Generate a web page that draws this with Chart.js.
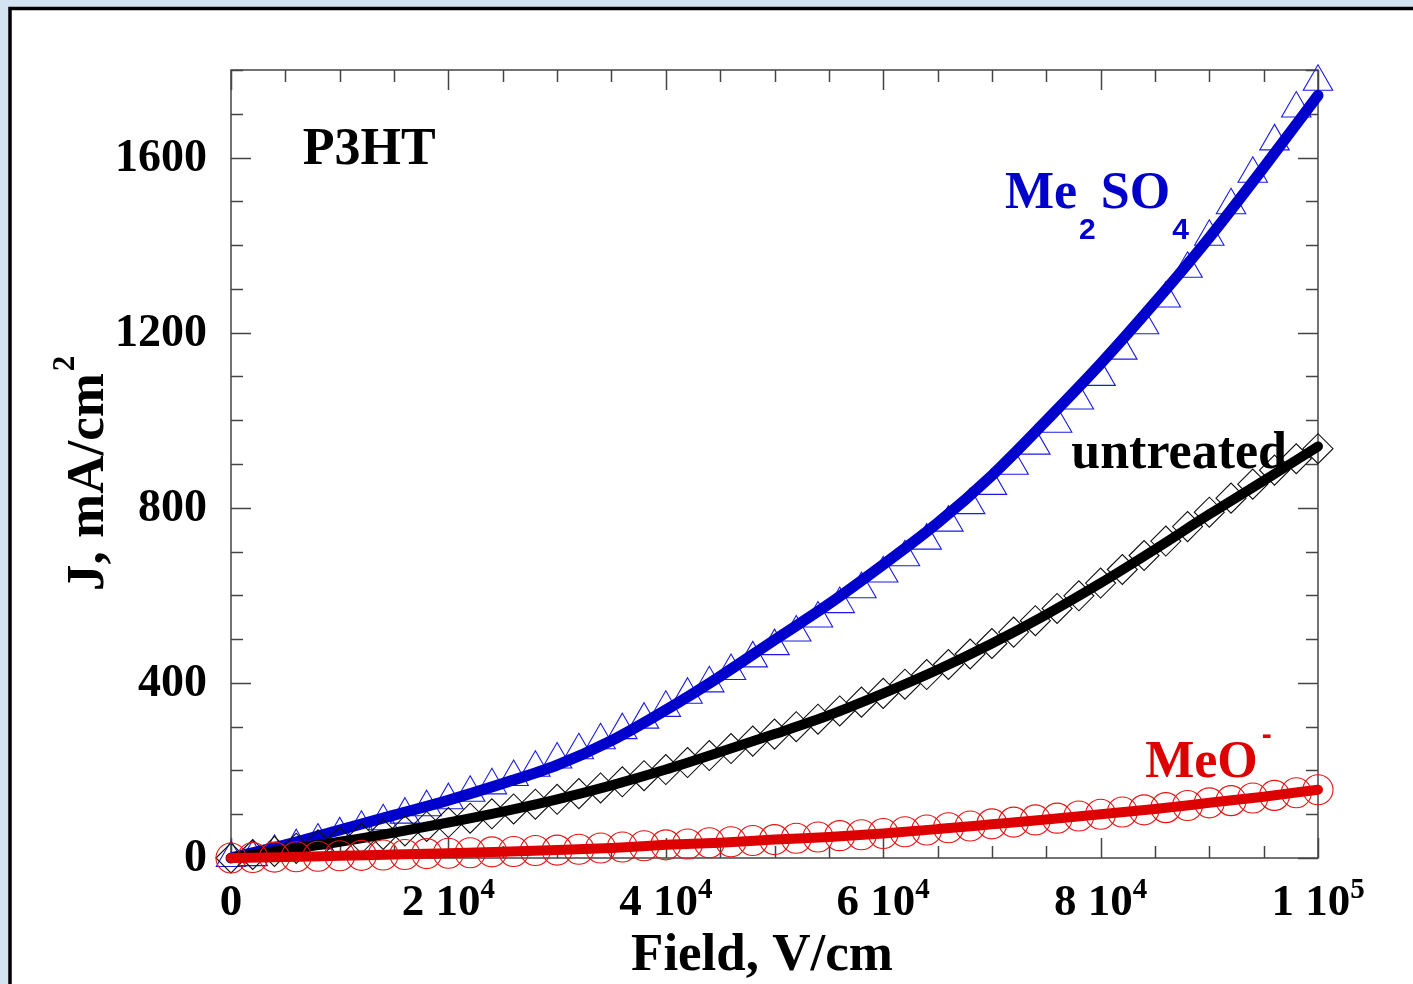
<!DOCTYPE html>
<html>
<head>
<meta charset="utf-8">
<script src="https://cdn.jsdelivr.net/npm/chart.js@4.4.0/dist/chart.umd.min.js"></script>
<style>
  html, body { margin: 0; padding: 0; overflow: hidden; background: #d4e3f0; }
  #wrap { position: absolute; left: 0; top: 0; width: 1413px; height: 984px; }
</style>
</head>
<body>
<div id="wrap"><canvas id="myChart" width="1413" height="984"></canvas></div>
<script>
// measured points (every 2000 V/cm)
const fieldPts = [0, 2000, 4000, 6000, 8000, 10000, 12000, 14000, 16000, 18000,
  20000, 22000, 24000, 26000, 28000, 30000, 32000, 34000, 36000, 38000,
  40000, 42000, 44000, 46000, 48000, 50000, 52000, 54000, 56000, 58000,
  60000, 62000, 64000, 66000, 68000, 70000, 72000, 74000, 76000, 78000,
  80000, 82000, 84000, 86000, 88000, 90000, 92000, 94000, 96000, 98000, 100000];
const me2so4Pts = [0, 2, 14, 27, 40, 54, 69, 84, 99, 116, 132, 149, 166, 185, 206, 225,
  246, 269, 292, 316, 343, 373, 399, 427, 456, 484, 515, 547, 580, 614, 650, 687, 725,
  766, 806, 850, 896, 942, 992, 1045, 1099, 1159, 1217, 1278, 1346, 1419, 1491, 1563,
  1637, 1712, 1773];
const untreatedPts = [0, 8, 15, 22, 30, 37, 45, 54, 62, 72, 81, 91, 101, 112, 123, 134,
  147, 160, 174, 188, 202, 218, 234, 250, 267, 283, 300, 317, 336, 356, 376, 397, 419,
  442, 466, 490, 516, 542, 570, 599, 628, 659, 691, 724, 757, 790, 822, 854, 886, 912, 935];
const meoPts = [0, 1, 2, 3, 4, 5, 6, 7, 8, 10, 11, 12, 14, 15, 17, 18, 20, 23, 25, 28,
  30, 32, 35, 37, 40, 42, 45, 48, 51, 53, 56, 60, 64, 69, 73, 78, 82, 87, 91, 96,
  100, 105, 110, 115, 120, 126, 131, 137, 143, 149, 156];

// fitted curves (every 5000 V/cm)
const fieldFit = [0, 5000, 10000, 15000, 20000, 25000, 30000, 35000, 40000, 45000, 50000,
  55000, 60000, 65000, 70000, 75000, 80000, 85000, 90000, 95000, 100000];
const me2so4Fit = [0, 30, 64, 98, 132, 170, 212, 268, 338, 415, 498, 580, 670, 765, 874,
  999, 1129, 1269, 1417, 1577, 1742];
const untreatedFit = [0, 19, 37, 58, 81, 106, 134, 166, 202, 242, 283, 326, 376, 430, 490,
  556, 628, 705, 785, 862, 940];
const meoFit = [0, 2, 5, 8, 11, 14, 18, 23, 30, 35, 42, 48, 56, 66, 77, 88, 100, 112, 126,
  140, 156];

// axis labels
const xTickValues = [0, 20000, 40000, 60000, 80000, 100000];
const xTickMant = ["0", "2 10", "4 10", "6 10", "8 10", "1 10"];
const xTickExp = ["", "4", "4", "4", "4", "5"];
const yTickValues = [0, 400, 800, 1200, 1600];

const SERIF = '"Liberation Serif", "Times New Roman", serif';
const SANS = '"Liberation Sans", Arial, sans-serif';
const BLUE = "#0000cc";
const RED = "#dd0000";

const pairs = (xs, ys) => xs.map((x, i) => ({ x: x, y: ys[i] }));

// draws pieces of text one after another (for sub/superscripts)
function drawRuns(ctx, x, y, parts, align) {
  let w = 0;
  parts.forEach((p) => {
    ctx.font = p.font;
    w += ctx.measureText(p.t).width + (p.gap || 0);
  });
  let cx = align === "center" ? x - w / 2 : align === "right" ? x - w : x;
  parts.forEach((p) => {
    ctx.font = p.font;
    ctx.fillText(p.t, cx, y + (p.dy || 0));
    cx += ctx.measureText(p.t).width + (p.gap || 0);
  });
}

const framePlugin = {
  id: "frame",
  beforeDraw(chart) {
    const ctx = chart.ctx;
    ctx.save();
    ctx.fillStyle = "#d4e3f0";
    ctx.fillRect(0, 0, chart.width, chart.height);
    ctx.fillStyle = "#ffffff";
    ctx.fillRect(11, 9, 1500, 1100);
    ctx.strokeStyle = "#000";
    ctx.lineWidth = 3.5;
    ctx.strokeRect(10, 8.5, 1500, 1100);
    ctx.restore();
  },
  beforeDatasetsDraw(chart) {
    const ctx = chart.ctx;
    const { left, right, top, bottom } = chart.chartArea;
    const xs = chart.scales.x, ys = chart.scales.y;
    ctx.save();
    ctx.strokeStyle = "#444";
    ctx.lineWidth = 1.5;
    ctx.strokeRect(left, top, right - left, bottom - top);
    ctx.beginPath();
    for (let v = 0; v <= 100000; v += 5000) {
      const px = Math.round(xs.getPixelForValue(v)) + 0.5;
      const len = v % 20000 === 0 ? 20 : 12;
      ctx.moveTo(px, bottom); ctx.lineTo(px, bottom - len);
      ctx.moveTo(px, top); ctx.lineTo(px, top + len);
    }
    for (let v = 0; v <= 1800; v += 100) {
      const py = Math.round(ys.getPixelForValue(v)) + 0.5;
      const len = v % 400 === 0 ? 20 : 12;
      ctx.moveTo(left, py); ctx.lineTo(left + len, py);
      ctx.moveTo(right, py); ctx.lineTo(right - len, py);
    }
    ctx.stroke();
    ctx.restore();
  },
  afterDraw(chart) {
    const ctx = chart.ctx;
    const xs = chart.scales.x, ys = chart.scales.y;
    ctx.save();
    ctx.textBaseline = "alphabetic";
    ctx.fillStyle = "#000";

    // y tick labels
    ctx.font = "bold 46px " + SERIF;
    ctx.textAlign = "right";
    yTickValues.forEach((v) => {
      ctx.fillText(String(v), 207, ys.getPixelForValue(v) + 13);
    });
    ctx.textAlign = "left";

    // x tick labels with exponent
    xTickValues.forEach((v, i) => {
      const parts = [{ t: xTickMant[i], font: "bold 45px " + SERIF }];
      if (xTickExp[i]) parts.push({ t: xTickExp[i], font: "bold 29px " + SERIF, dy: -17 });
      drawRuns(ctx, xs.getPixelForValue(v), 915, parts, "center");
    });

    // axis titles
    ctx.font = "bold 53px " + SERIF;
    ctx.textAlign = "center";
    ctx.fillText("Field, V/cm", 762, 970);
    ctx.textAlign = "left";

    ctx.save();
    ctx.translate(103, 591);
    ctx.rotate(-Math.PI / 2);
    drawRuns(ctx, 0, 0, [
      { t: "J, mA/cm", font: "bold 53px " + SERIF, gap: 2 },
      { t: "2", font: "bold 31px " + SERIF, dy: -29 }
    ], "left");
    ctx.restore();

    // annotations, anchored in data units
    ctx.font = "bold 52px " + SERIF;
    ctx.fillText("P3HT", xs.getPixelForValue(6600), ys.getPixelForValue(1586));

    ctx.fillStyle = BLUE;
    drawRuns(ctx, xs.getPixelForValue(71200), ys.getPixelForValue(1484), [
      { t: "Me", font: "bold 52px " + SERIF, gap: 2 },
      { t: "2", font: "bold 30px " + SANS, dy: 31, gap: 5 },
      { t: "SO", font: "bold 52px " + SERIF, gap: 2 },
      { t: "4", font: "bold 30px " + SANS, dy: 31 }
    ], "left");

    ctx.fillStyle = "#000";
    ctx.font = "bold 52px " + SERIF;
    ctx.fillText("untreated", xs.getPixelForValue(77300), ys.getPixelForValue(890));

    ctx.fillStyle = RED;
    drawRuns(ctx, xs.getPixelForValue(84100), ys.getPixelForValue(185), [
      { t: "MeO", font: "bold 52px " + SERIF, gap: 4 },
      { t: "-", font: "bold 30px " + SANS, dy: -33 }
    ], "left");
    ctx.restore();
  }
};

const markerSet = (label, ys, color, style, radius, order) => ({
  label: label,
  data: pairs(fieldPts, ys),
  showLine: false,
  pointStyle: style,
  pointRadius: radius,
  pointHoverRadius: radius,
  pointBorderWidth: 1.1,
  pointBorderColor: color,
  pointBackgroundColor: "rgba(0,0,0,0)",
  borderColor: color,
  clip: false,
  order: order
});

const fitSet = (label, ys, color, width, order) => ({
  label: label,
  data: pairs(fieldFit, ys),
  borderColor: color,
  borderWidth: width,
  borderCapStyle: "round",
  borderJoinStyle: "round",
  cubicInterpolationMode: "monotone",
  pointRadius: 0,
  fill: false,
  clip: false,
  order: order
});

const config = {
  type: "line",
  data: {
    datasets: [
      markerSet("Me2SO4 data", me2so4Pts, "#1a1ae6", "triangle", 17, 6),
      fitSet("Me2SO4 fit", me2so4Fit, BLUE, 11, 5),
      markerSet("untreated data", untreatedPts, "#111", "rectRot", 15, 4),
      fitSet("untreated fit", untreatedFit, "#000", 10, 3),
      markerSet("MeO data", meoPts, "#e31515", "circle", 15, 2),
      fitSet("MeO fit", meoFit, RED, 10, 1)
    ]
  },
  options: {
    responsive: false,
    animation: false,
    devicePixelRatio: 1,
    layout: { padding: { left: 231, top: 70, right: 95, bottom: 126 } },
    plugins: { legend: { display: false }, tooltip: { enabled: false } },
    scales: {
      x: { type: "linear", min: 0, max: 100000, display: false },
      y: { type: "linear", min: 0, max: 1800, display: false }
    }
  },
  plugins: [framePlugin]
};

const myChart = new Chart(document.getElementById("myChart"), config);
</script>
</body>
</html>
